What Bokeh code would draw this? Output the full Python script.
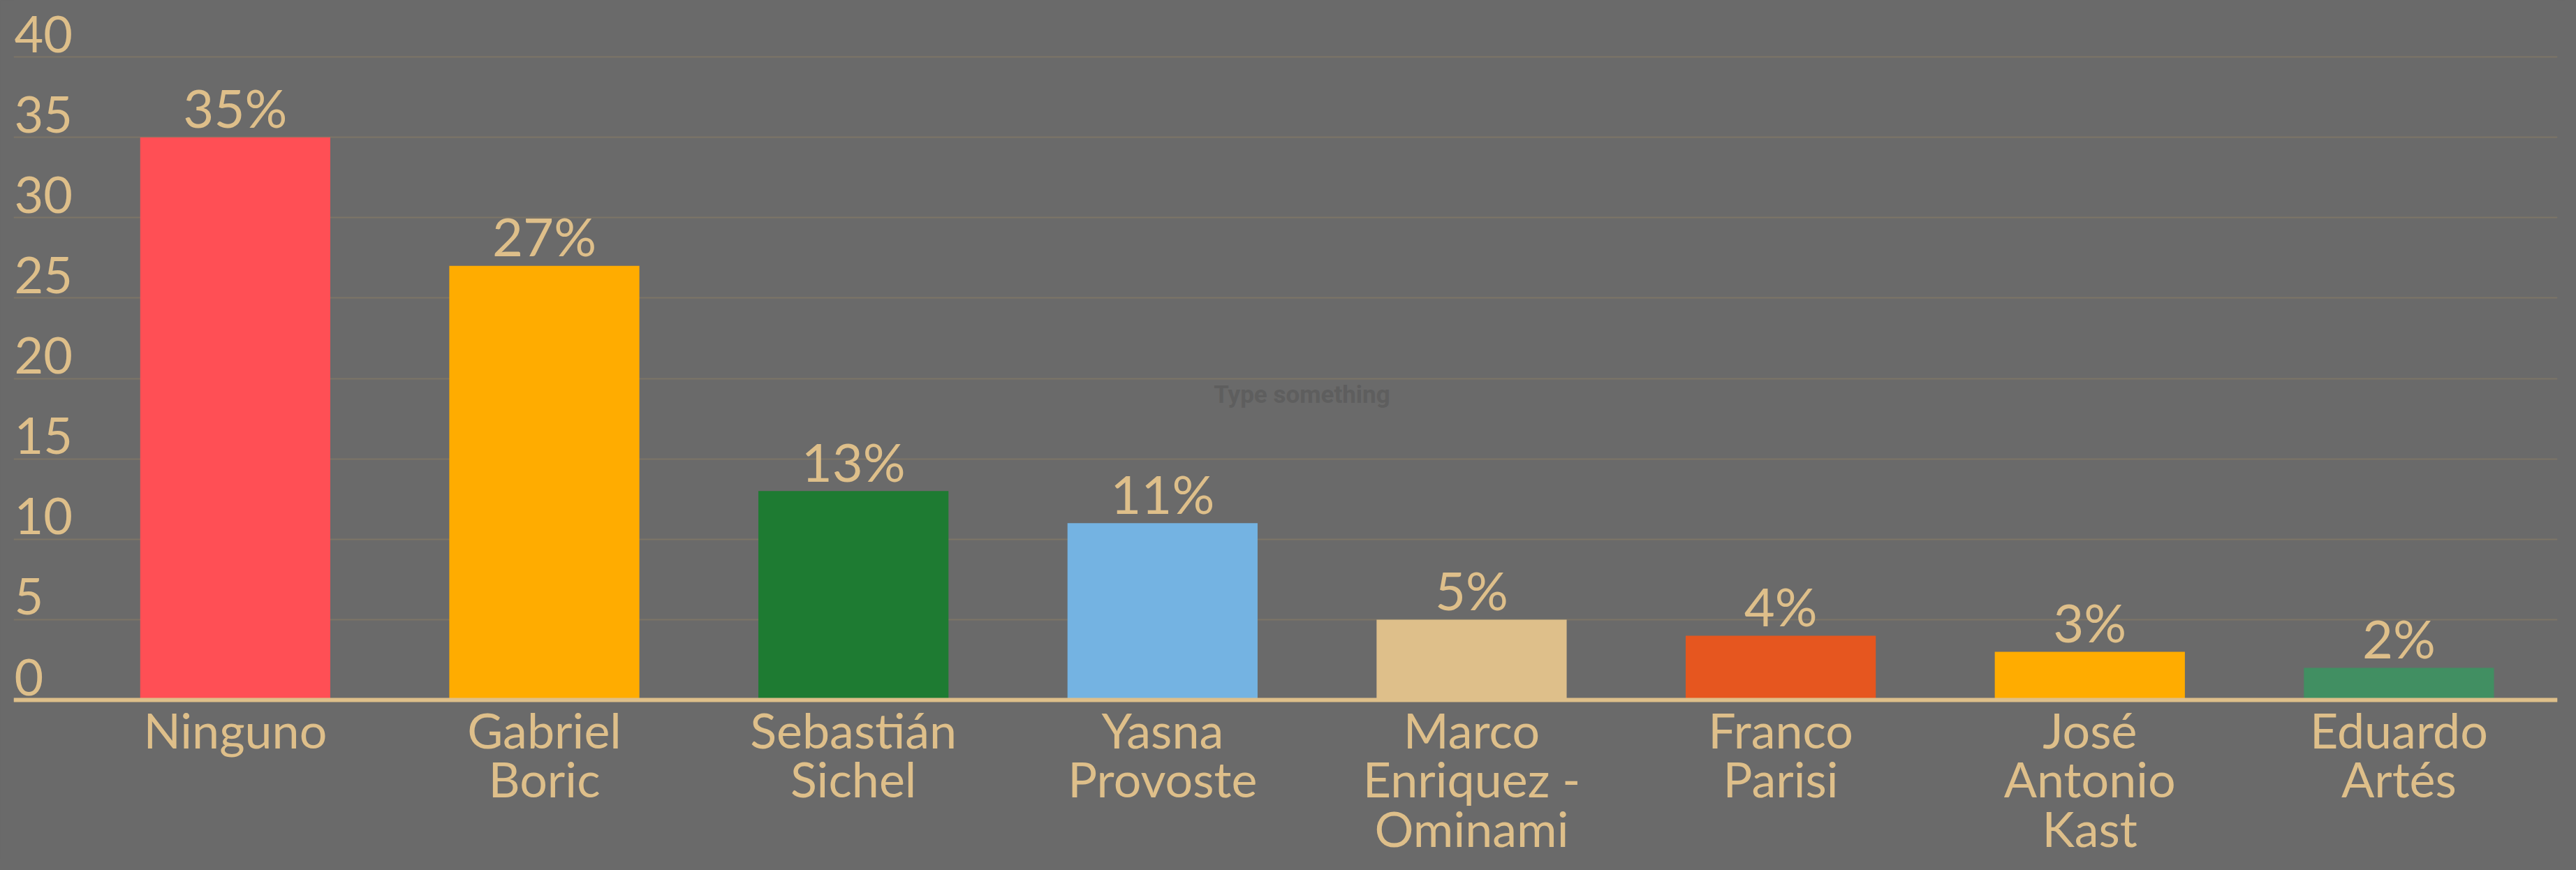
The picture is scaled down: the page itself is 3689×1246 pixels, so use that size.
from bokeh.plotting import figure
from bokeh.models import Range1d, FixedTicker, ColumnDataSource, Label
from bokeh.core.properties import value
from bokeh.embed import file_html
from bokeh.resources import INLINE

# ---- data ----
categories = ["Ninguno", "Gabriel\nBoric", "Sebastián\nSichel", "Yasna\nProvoste",
              "Marco\nEnriquez -\nOminami", "Franco\nParisi", "José\nAntonio\nKast",
              "Eduardo\nArtés"]
values = [35, 27, 13, 11, 5, 4, 3, 2]
value_labels = ["35%", "27%", "13%", "11%", "5%", "4%", "3%", "2%"]
bar_colors = ["#ff4f55", "#ffac00", "#1e7b32", "#74b3e2", "#debf8a", "#e6561f", "#ffac00", "#418f62"]
y_ticks = [0, 5, 10, 15, 20, 25, 30, 35, 40]
y_tick_labels = ["0", "5", "10", "15", "20", "25", "30", "35", "40"]

# ---- style ----
BG = "#6a6a6a"
FG = "#debf8a"
GRID = "#7d7567"
FONT = "Lato"

x_idx = list(range(len(categories)))
x_start, x_end = -0.717, 7.513

p = figure(width=3673, height=1230,
           x_range=Range1d(x_start, x_end), y_range=Range1d(-9.9, 43.52),
           output_backend="svg", toolbar_location=None,
           min_border_left=19, min_border_right=11, min_border_top=0, min_border_bottom=0,
           background_fill_color=None, border_fill_color=BG, outline_line_color=None)

src = ColumnDataSource(dict(x=x_idx, top=values, color=bar_colors, label=value_labels))
p.vbar(x="x", top="top", bottom=0, width=0.615, fill_color="color", line_color=None, source=src)
p.text(x="x", y="top", text="label", source=src, text_align="center",
       text_baseline="alphabetic", y_offset=-43, text_color=FG,
       text_font=value(FONT), text_font_size="76px")

ysrc = ColumnDataSource(dict(x=[x_start] * len(y_ticks), y=y_ticks, label=y_tick_labels))
p.text(x="x", y="y", text="label", source=ysrc, text_align="left",
       text_baseline="alphabetic", x_offset=1, y_offset=-33, text_color=FG,
       text_font=value(FONT), text_font_size="72px")

p.add_layout(Label(x=3.451, y=19.0, text="Type something", text_align="center",
                   text_baseline="alphabetic", text_color="#5e5e5e",
                   text_font="Roboto", text_font_style="bold", text_font_size="35px"))

p.yaxis.visible = False
p.ygrid.ticker = FixedTicker(ticks=y_ticks)
p.ygrid.grid_line_color = GRID
p.ygrid.grid_line_width = 2
p.xgrid.visible = False

xa = p.xaxis[0]
xa.fixed_location = 0
xa.ticker = FixedTicker(ticks=x_idx)
xa.major_label_overrides = {i: c for i, c in enumerate(categories)}
xa.major_tick_line_color = None
xa.minor_tick_line_color = None
xa.major_tick_out = 0
xa.minor_tick_out = 0
xa.axis_line_color = FG
xa.axis_line_width = 6
xa.major_label_text_color = FG
xa.major_label_text_font = FONT
xa.major_label_text_font_size = "70px"
xa.major_label_standoff = 0
xa.major_label_text_line_height = 0.84

html = file_html(p, INLINE)
html = html.replace("</head>", "<style>body{background:#6a6a6a;}</style></head>", 1)
open("out.html", "w").write(html)
